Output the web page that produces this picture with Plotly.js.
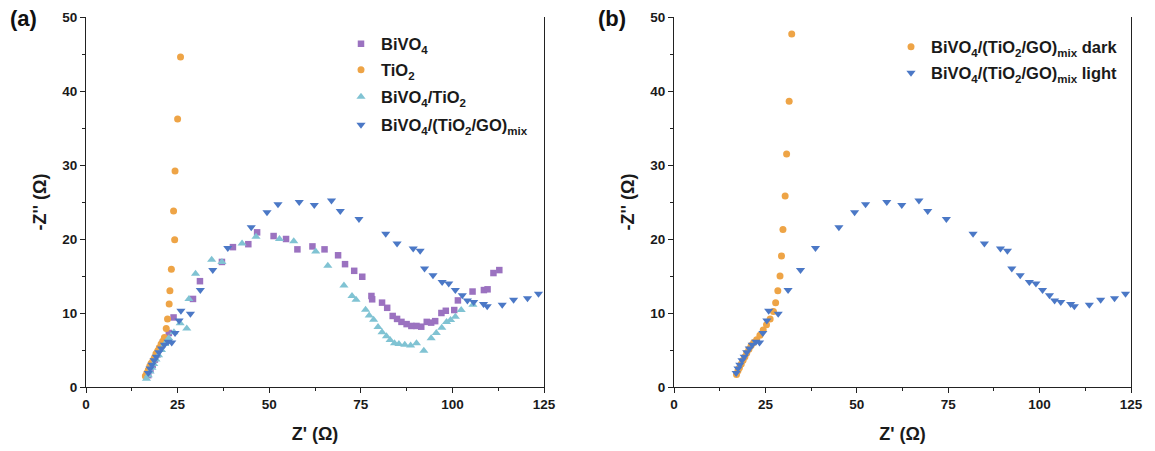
<!DOCTYPE html>
<html>
<head>
<meta charset="utf-8">
<script src="https://cdn.plot.ly/plotly-3.0.1.min.js"></script>
<style>html,body{margin:0;padding:0;background:#fff;}#chart{width:1155px;height:451px;}</style>
</head>
<body>
<div id="chart"></div>
<script>
// ---- Data (Z' in Ω, -Z'' in Ω) ----
const seriesNames = {
  bivo4: "<b>BiVO<sub>4</sub></b>",
  tio2: "<b>TiO<sub>2</sub></b>",
  bivo4Tio2: "<b>BiVO<sub>4</sub>/TiO<sub>2</sub></b>",
  mix: "<b>BiVO<sub>4</sub>/(TiO<sub>2</sub>/GO)<sub>mix</sub></b>",
  mixDark: "<b>BiVO<sub>4</sub>/(TiO<sub>2</sub>/GO)<sub>mix</sub> dark</b>",
  mixLight: "<b>BiVO<sub>4</sub>/(TiO<sub>2</sub>/GO)<sub>mix</sub> light</b>"
};

const bivo4X = [17.0,17.6,18.2,18.8,19.5,20.2,21.0,22.6,23.9,29.2,31.1,37.1,40.1,44.3,46.7,51.2,54.6,57.7,61.8,65.1,68.8,70.7,73.2,75.4,77.9,78.1,80.8,82.2,83.7,84.9,86.1,87.5,88.8,90.2,91.5,93.0,94.2,95.3,97.0,98.2,100.5,101.5,105.5,108.6,109.6,111.2,112.8];
const bivo4Y = [1.6,2.3,3.0,3.7,4.4,5.2,6.0,7.3,9.4,11.9,14.3,16.9,18.9,19.3,20.9,20.4,20.0,18.6,19.0,18.6,17.8,16.6,15.7,14.9,12.3,11.85,11.4,10.7,9.6,9.2,8.8,8.5,8.25,8.25,8.15,8.8,8.7,8.9,10.0,10.3,10.4,11.7,12.9,13.1,13.2,15.4,15.8];

const tio2X = [16.2,16.6,17.0,17.4,17.8,18.3,18.7,19.1,19.6,20.0,20.5,21.0,21.4,21.9,22.25,22.7,22.9,23.3,24.2,23.9,24.3,25.0,25.8];
const tio2Y = [1.5,1.9,2.3,2.8,3.2,3.6,4.0,4.5,4.9,5.3,5.8,6.2,6.7,7.9,9.2,11.2,13.0,15.9,19.9,23.8,29.2,36.2,44.6];

const bivo4Tio2X = [16.5,17.0,17.5,18.0,18.5,19.1,19.8,20.6,21.5,22.6,24.0,25.7,27.5,28.1,29.9,34.3,37.1,42.6,46.4,52.8,56.7,62.7,66.0,70.4,72.6,73.7,76.3,77.3,78.5,79.7,80.8,82.0,83.0,84.2,85.4,87.0,88.6,90.2,92.2,94.2,95.6,97.1,98.4,99.5,100.8,102.4,105.6];
const bivo4Tio2Y = [1.1,1.6,2.1,2.6,3.1,3.7,4.3,5.0,5.8,6.6,7.4,8.6,7.9,11.9,15.3,17.2,16.9,19.4,20.3,20.0,19.7,18.3,16.4,13.7,12.3,11.8,10.45,9.65,9.1,8.1,7.4,6.85,6.35,5.9,5.8,5.7,5.6,5.9,4.9,6.6,7.3,8.0,8.8,9.05,9.5,10.4,11.1];

const mixX = [17.0,17.5,18.0,18.6,19.2,19.9,20.6,21.4,22.4,23.4,24.3,25.4,25.9,28.5,31.2,34.6,38.7,45.1,49.4,52.4,58.2,62.3,67.0,69.4,74.5,81.8,84.9,89.3,91.2,92.4,94.7,97.2,99.0,100.8,102.7,104.1,105.8,108.5,109.5,113.6,116.7,120.5,123.5];
const mixY = [1.9,2.5,3.0,3.6,4.1,4.7,5.2,5.7,6.1,6.0,7.3,9.0,10.3,9.9,13.1,15.8,18.8,21.6,23.6,24.7,25.0,24.6,25.2,23.8,22.7,20.7,19.4,18.7,18.4,16.0,15.1,14.2,14.0,13.1,12.4,11.7,11.5,11.2,10.9,11.1,11.8,12.0,12.6];

const darkX = [17.1,17.5,17.9,18.4,18.9,19.4,19.9,20.5,21.1,21.8,22.6,23.5,24.4,25.3,26.3,27.2,27.8,28.4,29.0,29.4,29.8,30.4,30.8,31.5,32.2];
const darkY = [1.7,2.2,2.6,3.1,3.6,4.1,4.6,5.1,5.6,6.0,6.4,7.0,7.7,8.4,9.2,10.2,11.4,13.0,15.0,17.7,21.3,25.8,31.5,38.6,47.7];

const xTickVals = [0,25,50,75,100,125];
const xTickText = ["<b>0</b>","<b>25</b>","<b>50</b>","<b>75</b>","<b>100</b>","<b>125</b>"];
const yTickVals = [0,10,20,30,40,50];
const yTickText = ["<b>0</b>","<b>10</b>","<b>20</b>","<b>30</b>","<b>40</b>","<b>50</b>"];
const panelLabels = ["<b>(a)</b>", "<b>(b)</b>"];
const xTitle = "<b>Z' (Ω)</b>";
const yTitle = "<b>-Z'' (Ω)</b>";

// ---- Styling ----
const C = {purple:"#9b72c0", orange:"#eea446", cyan:"#80c3d3", blue:"#4b78c6"};
const FONT = "Liberation Sans, Arial, Helvetica, sans-serif";
const W = 1155, H = 451;

function mk(x, y, name, color, symbol, size, xa, ya, legend) {
  return {type:"scatter", mode:"markers", x:x, y:y, name:name, xaxis:xa, yaxis:ya, legend:legend,
    marker:{color:color, symbol:symbol, size:size, line:{width:0}}, cliponaxis:false};
}

const data = [
  mk(bivo4X, bivo4Y, seriesNames.bivo4, C.purple, "square", 6.5, "x", "y", "legend"),
  mk(tio2X, tio2Y, seriesNames.tio2, C.orange, "circle", 7, "x", "y", "legend2"),
  mk(bivo4Tio2X, bivo4Tio2Y, seriesNames.bivo4Tio2, C.cyan, "triangle-up", 8, "x", "y", "legend3"),
  mk(mixX, mixY, seriesNames.mix, C.blue, "triangle-down", 8, "x", "y", "legend4"),
  mk(darkX, darkY, seriesNames.mixDark, C.orange, "circle", 7, "x2", "y2", "legend5"),
  mk(mixX, mixY, seriesNames.mixLight, C.blue, "triangle-down", 8, "x2", "y2", "legend6")
];

const TICKFONT = {family:FONT, size:13.5, color:"#1a1a1a"};
const TITLEFONT = {family:FONT, size:18, color:"#1a1a1a"};

function xAxis(dom, anchor) {
  return {domain:dom, anchor:anchor, range:[0,125], tickmode:"array", tickvals:xTickVals, ticktext:xTickText,
    ticks:"outside", ticklen:5, tickwidth:1,
    tickcolor:"#222", showline:true, linecolor:"#222", linewidth:1, showgrid:false, zeroline:false,
    tickfont:TICKFONT,
    minor:{dtick:12.5, tick0:0, ticks:"outside", ticklen:3, tickcolor:"#222", showgrid:false},
    title:{text:xTitle, font:TITLEFONT, standoff:16}, automargin:false};
}
function yAxis(dom, anchor) {
  return {domain:dom, anchor:anchor, range:[0,50], tickmode:"array", tickvals:yTickVals, ticktext:yTickText,
    ticks:"outside", ticklen:5, tickwidth:1,
    tickcolor:"#222", showline:true, mirror:true, linecolor:"#222", linewidth:1, showgrid:false, zeroline:false,
    tickfont:TICKFONT,
    minor:{dtick:5, tick0:0, ticks:"outside", ticklen:3, tickcolor:"#222", showgrid:false},
    title:{text:yTitle, font:TITLEFONT, standoff:10}, automargin:false};
}

const yDom = [1-387/H, 1-17/H];
function leg(px, py) {
  return {x:px/W, y:1-py/H, xanchor:"left", yanchor:"middle", bgcolor:"rgba(0,0,0,0)", borderwidth:0,
    font:{family:FONT, size:16.5, color:"#1a1a1a"}, itemclick:false};
}

const layout = {
  width:W, height:H, margin:{l:0, r:0, t:0, b:0},
  paper_bgcolor:"#fff", plot_bgcolor:"#fff", showlegend:true,
  xaxis:xAxis([86/W, 544/W], "y"), yaxis:yAxis(yDom, "x"),
  xaxis2:xAxis([674/W, 1131/W], "y2"), yaxis2:yAxis(yDom, "x2"),
  legend:leg(341, 44), legend2:leg(341, 70), legend3:leg(341, 97), legend4:leg(341, 125),
  legend5:leg(891, 47), legend6:leg(891, 73),
  annotations:[
    {text:panelLabels[0], xref:"paper", yref:"paper", x:8/W, y:1-18/H, xanchor:"left", yanchor:"middle", showarrow:false, font:{family:FONT, size:22, color:"#111"}},
    {text:panelLabels[1], xref:"paper", yref:"paper", x:596/W, y:1-18/H, xanchor:"left", yanchor:"middle", showarrow:false, font:{family:FONT, size:22, color:"#111"}}
  ]
};

Plotly.newPlot("chart", data, layout, {staticPlot:true, displayModeBar:false});
</script>
</body>
</html>
